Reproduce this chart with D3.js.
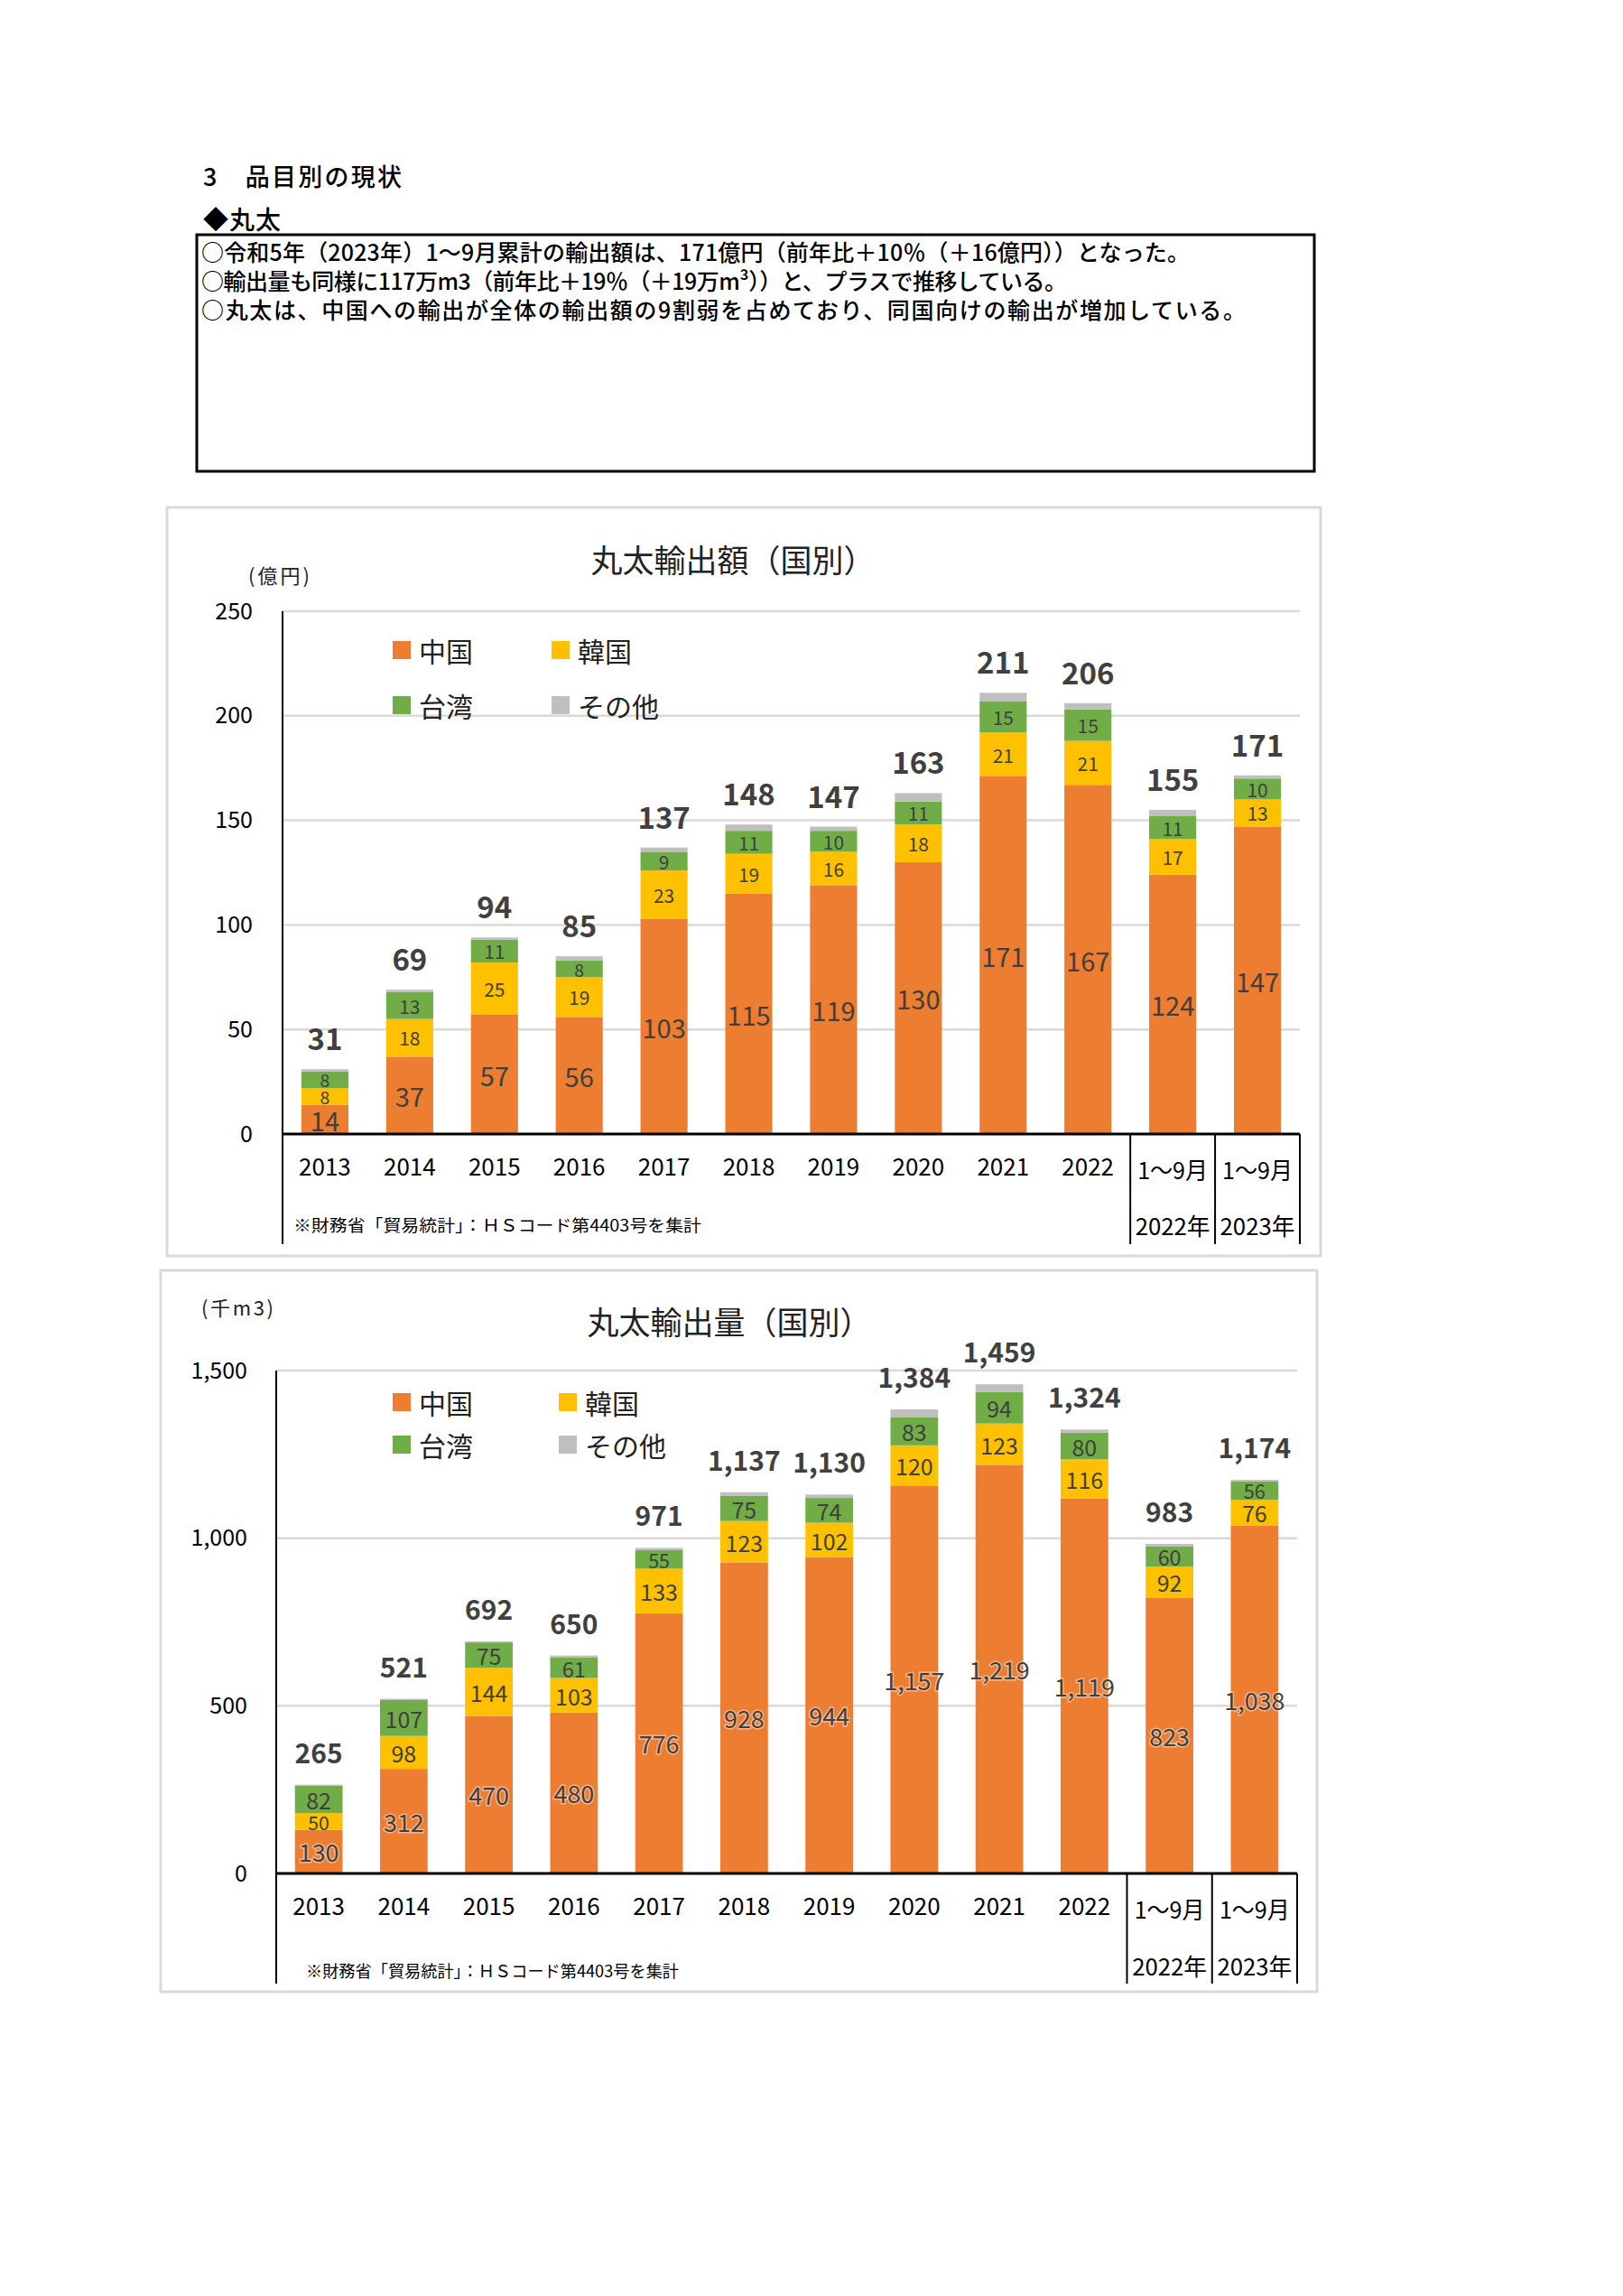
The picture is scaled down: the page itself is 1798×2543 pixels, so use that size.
<!DOCTYPE html>
<html><head><meta charset="utf-8">
<script src="https://cdn.jsdelivr.net/npm/d3@7/dist/d3.min.js"></script>
<style>
body{margin:0;background:#fff}
svg{display:block}
text{font-family:"Noto Sans CJK JP","Noto Sans",sans-serif}
</style>
</head><body>
<svg id="page" width="1798" height="2543"></svg>
<script>
// ---------- data ----------
const categories = ["2013","2014","2015","2016","2017","2018","2019","2020","2021","2022","1～9月|2022年","1～9月|2023年"];
const seriesNames = ["中国","韓国","台湾","その他"];
const seriesColors = ["#ED7D31","#FFC000","#70AD47","#BFBFBF"];

const amountChina  = [14,37,57,56,103,115,119,130,171,167,124,147];
const amountKorea  = [8,18,25,19,23,19,16,18,21,21,17,13];
const amountTaiwan = [8,13,11,8,9,11,10,11,15,15,11,10];
const amountOther  = [1,1,1,2,2,3,2,4,4,3,3,1.5];
const amountTotal  = [31,69,94,85,137,148,147,163,211,206,155,171];
const amountTicks  = [0,50,100,150,200,250];

const volumeChina  = [130,312,470,480,776,928,944,1157,1219,1119,823,1038];
const volumeKorea  = [50,98,144,103,133,123,102,120,123,116,92,76];
const volumeTaiwan = [82,107,75,61,55,75,74,83,94,80,60,56];
const volumeOther  = [3,4,3,6,7,11,10,24,23,9,8,4];
const volumeTotal  = [265,521,692,650,971,1137,1130,1384,1459,1324,983,1174];
const volumeTicks  = [0,500,1000,1500];

const headingText = "3　品目別の現状";
const subHeadingText = "◆丸太";
const summaryLines = [
  "○令和5年（2023年）1～9月累計の輸出額は、171億円（前年比＋10％（＋16億円））となった。",
  "○輸出量も同様に117万m3（前年比＋19％（＋19万m³））と、プラスで推移している。",
  "○丸太は、中国への輸出が全体の輸出額の9割弱を占めており、同国向けの輸出が増加している。"
];
const sourceNote = "※財務省「貿易統計」：ＨＳコード第4403号を集計";

// ---------- page ----------
const svg = d3.select("#page");
svg.append("rect").attr("width",1798).attr("height",2543).attr("fill","#fff");

svg.append("text").attr("x",225).attr("y",194).attr("dominant-baseline","central")
  .attr("font-size",27).attr("font-weight",500).attr("textLength",220).attr("lengthAdjust","spacing").text(headingText);
svg.append("text").attr("x",225).attr("y",242).attr("dominant-baseline","central")
  .attr("font-size",28).attr("font-weight",500).attr("textLength",86).attr("lengthAdjust","spacing").text(subHeadingText);
svg.append("rect").attr("x",218).attr("y",260).attr("width",1238).attr("height",262)
  .attr("fill","none").attr("stroke","#000").attr("stroke-width",3);
const lineWidths = [1095,959,1157];
svg.selectAll(".summary").data(summaryLines).join("text")
  .attr("x",223).attr("y",(d,i)=>278+i*32).attr("dominant-baseline","central")
  .attr("font-size",25).attr("font-weight",500).attr("textLength",(d,i)=>lineWidths[i]).attr("lengthAdjust","spacing")
  .text(d=>d);

// ---------- chart ----------
function drawChart(cfg){
  const g = svg.append("g");
  g.append("rect").attr("x",cfg.frame[0]).attr("y",cfg.frame[1]).attr("width",cfg.frame[2]).attr("height",cfg.frame[3])
    .attr("fill","#fff").attr("stroke","#d9d9d9").attr("stroke-width",3);

  const x = d3.scaleBand().domain(categories).range([cfg.x0,cfg.x1]).paddingInner(cfg.pad).paddingOuter(cfg.pad/2);
  const y = d3.scaleLinear().domain([0,cfg.max]).range([cfg.y0,cfg.yTop]);
  const fmt = d3.format(",");

  // gridlines
  g.selectAll(".grid").data(cfg.ticks.filter(t=>t>0)).join("line")
    .attr("x1",cfg.x0).attr("x2",cfg.x1).attr("y1",d=>y(d)).attr("y2",d=>y(d))
    .attr("stroke","#d9d9d9").attr("stroke-width",2.5);

  // y tick labels
  const ya = g.append("g").attr("transform",`translate(${cfg.x0},0)`)
    .call(d3.axisLeft(y).tickValues(cfg.ticks).tickFormat(fmt).tickSize(0).tickPadding(cfg.x0-cfg.tickRight));
  ya.select(".domain").remove();
  ya.selectAll("text").attr("font-size",cfg.tickFont).attr("fill","#000");

  // unit + title
  g.append("text").attr("x",cfg.unit[0]).attr("y",cfg.unit[1]).attr("text-anchor","middle").attr("dominant-baseline","central")
    .attr("font-size",22).attr("textLength",cfg.unit[2]).attr("lengthAdjust","spacing").attr("fill","#222").text(cfg.unitText);
  g.append("text").attr("x",cfg.title[0]).attr("y",cfg.title[1]).attr("text-anchor","middle").attr("dominant-baseline","central")
    .attr("font-size",35).attr("fill","#222").text(cfg.titleText);

  // stacked bars
  const keys = ["s0","s1","s2","s3"];
  const rows = categories.map((c,i)=>({cat:c,s0:cfg.series[0][i],s1:cfg.series[1][i],s2:cfg.series[2][i],s3:cfg.series[3][i],total:cfg.totals[i]}));
  const stacked = d3.stack().keys(keys)(rows);
  const layers = g.selectAll(".layer").data(stacked).join("g").attr("fill",(d,i)=>seriesColors[i]);
  layers.selectAll("rect").data(d=>d).join("rect")
    .attr("x",d=>x(d.data.cat)).attr("width",x.bandwidth())
    .attr("y",d=>y(d[1])).attr("height",d=>y(d[0])-y(d[1]));

  // segment labels (China, Korea, Taiwan)
  stacked.slice(0,3).forEach((layer,li)=>{
    g.selectAll(".lab"+li).data(layer).join("text")
      .attr("x",d=>x(d.data.cat)+x.bandwidth()/2)
      .attr("y",d=>(y(d[0])+y(d[1]))/2)
      .attr("text-anchor","middle").attr("dominant-baseline","central")
      .attr("font-size",d=>{
        const base = li===0?cfg.chinaFont:cfg.segFont;
        const h = y(d[0])-y(d[1]);
        return Math.min(base, Math.max(h*1.05, base*0.85));
      })
      .attr("fill","#404040")
      .attr("stroke",li===0 && cfg.halo ? "rgba(255,255,255,0.45)" : "none")
      .attr("stroke-width",li===0 && cfg.halo ? 3 : 0)
      .attr("paint-order","stroke")
      .text(d=>fmt(d[1]-d[0]));
  });

  // totals
  const top = stacked[stacked.length-1];
  g.selectAll(".tot").data(top).join("text")
    .attr("x",d=>x(d.data.cat)+x.bandwidth()/2)
    .attr("y",d=>y(d[1])-cfg.totOffset)
    .attr("text-anchor","middle").attr("font-weight","bold")
    .attr("font-size",cfg.totFont).attr("fill","#404040")
    .text(d=>fmt(d.data.total));

  // axis lines
  g.append("line").attr("x1",cfg.x0).attr("x2",cfg.x0).attr("y1",cfg.yTop).attr("y2",cfg.bottom)
    .attr("stroke","#000").attr("stroke-width",2);
  const half = x.step()*x.paddingInner()/2;
  const seps = [x(categories[10])-half, x(categories[11])-half, cfg.x1];
  g.selectAll(".sep").data(seps).join("line")
    .attr("x1",d=>d).attr("x2",d=>d).attr("y1",cfg.y0).attr("y2",cfg.bottom)
    .attr("stroke","#000").attr("stroke-width",2);
  g.append("line").attr("x1",cfg.x0).attr("x2",cfg.x1).attr("y1",cfg.y0).attr("y2",cfg.y0)
    .attr("stroke","#000").attr("stroke-width",3);

  // category labels
  categories.forEach(c=>{
    const cx = x(c)+x.bandwidth()/2;
    if(c.includes("|")){
      const [a,b] = c.split("|");
      g.append("text").attr("x",cx).attr("y",cfg.cat2[0]).attr("text-anchor","middle").attr("dominant-baseline","central")
        .attr("font-size",cfg.catFont).attr("textLength",78).attr("lengthAdjust","spacingAndGlyphs").text(a);
      g.append("text").attr("x",cx).attr("y",cfg.cat2[1]).attr("text-anchor","middle").attr("dominant-baseline","central")
        .attr("font-size",cfg.catFont).attr("textLength",83).attr("lengthAdjust","spacingAndGlyphs").text(b);
    } else {
      g.append("text").attr("x",cx).attr("y",cfg.catY).attr("text-anchor","middle").attr("dominant-baseline","central")
        .attr("font-size",cfg.catFont).text(c);
    }
  });

  // source note
  g.append("text").attr("x",cfg.note[0]).attr("y",cfg.note[1]).attr("dominant-baseline","central")
    .attr("font-size",18).attr("textLength",cfg.note[2]).attr("lengthAdjust","spacingAndGlyphs").text(sourceNote);

  // legend
  cfg.legend.forEach((p,i)=>{
    g.append("rect").attr("x",p[0]).attr("y",p[1]).attr("width",20).attr("height",20).attr("fill",seriesColors[i]);
    g.append("text").attr("x",p[0]+29).attr("y",p[1]+10).attr("dominant-baseline","central")
      .attr("font-size",30).attr("fill","#222").text(seriesNames[i]);
  });
}

drawChart({
  frame:[185,562,1278,829],
  x0:313, x1:1440, pad:0.445, y0:1256, yTop:677, max:250, ticks:amountTicks,
  tickRight:280, tickFont:25,
  unit:[309,636,68], unitText:"(億円)",
  title:[812,618], titleText:"丸太輸出額（国別）",
  series:[amountChina,amountKorea,amountTaiwan,amountOther], totals:amountTotal,
  chinaFont:29, segFont:21, totFont:33, totOffset:21, halo:false,
  bottom:1378, catY:1290, cat2:[1294,1356], catFont:26,
  note:[325,1356,452],
  legend:[[435,710],[611,710],[435,771],[611,771]]
});

drawChart({
  frame:[178,1407,1281,799],
  x0:306, x1:1437, pad:0.44, y0:2075, yTop:1518, max:1500, ticks:volumeTicks,
  tickRight:274, tickFont:25,
  unit:[263,1447,80], unitText:"(千m3)",
  title:[808,1462], titleText:"丸太輸出量（国別）",
  series:[volumeChina,volumeKorea,volumeTaiwan,volumeOther], totals:volumeTotal,
  chinaFont:27, segFont:25, totFont:30, totOffset:24, halo:true,
  bottom:2197, catY:2109, cat2:[2113,2176], catFont:26,
  note:[339,2182,413],
  legend:[[435,1543],[619,1543],[435,1590],[619,1590]]
});
</script>
</body></html>
